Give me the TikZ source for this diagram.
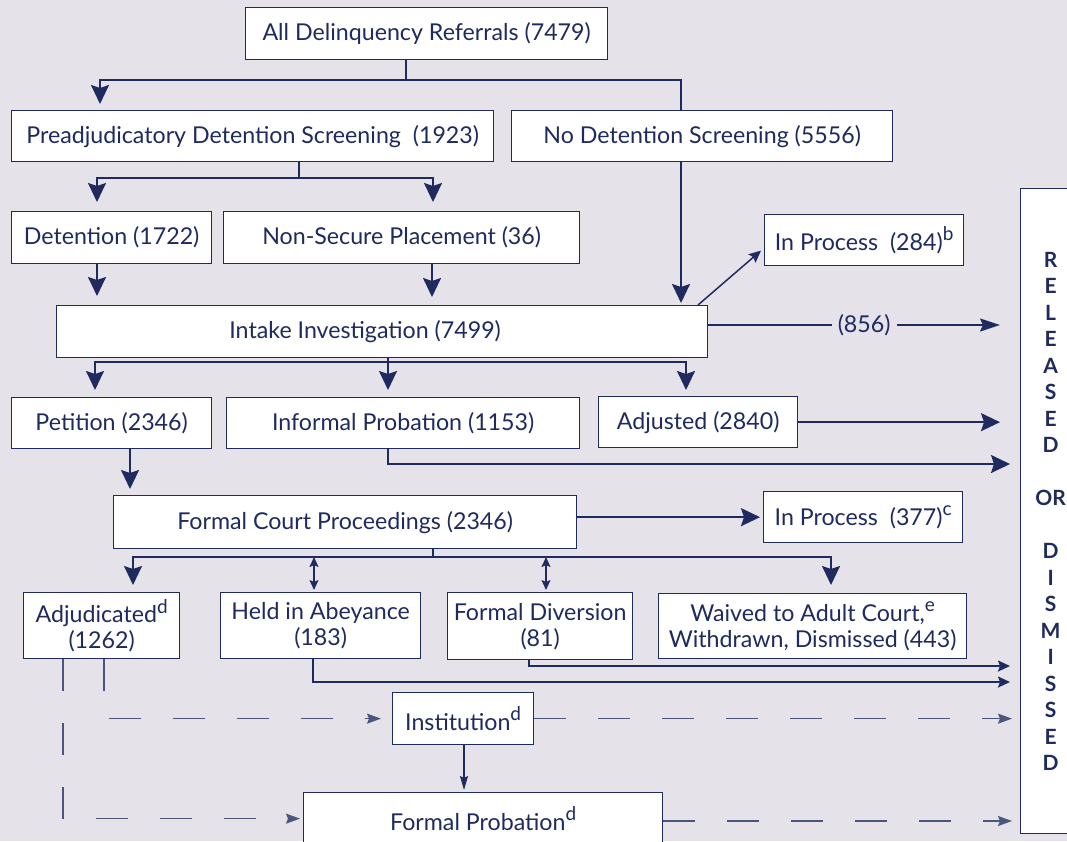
\documentclass[tikz,border=0pt]{standalone}
\usepackage{fontspec}
\setmainfont{Lato}
\usetikzlibrary{arrows.meta}
\definecolor{navy}{HTML}{1F2A5E}
\definecolor{bgcol}{HTML}{E5E2EA}
\newcommand{\notemark}[1]{\raisebox{0.42em}{\fontsize{19}{19}\selectfont #1}}
\tikzset{
  box/.style={draw=navy, fill=white, line width=1.3pt, anchor=north west, inner sep=0pt,
    align=center, text=navy, font=\fontsize{23.2}{26}\selectfont},
  link/.style={draw=navy, line width=2pt},
  big/.style={-{Stealth[length=19pt, width=18pt, inset=3pt]}},
  slim/.style={-{Stealth[length=20pt, width=13pt, inset=3pt]}},
  small/.style={-{Stealth[length=12pt, width=11pt, inset=2pt]}},
  both/.style={{Stealth[length=10pt, width=9pt, inset=2pt]}-{Stealth[length=10pt, width=9pt, inset=2pt]}},
  dashline/.style={draw=navy!80, line width=1.4pt, dash pattern=on 32pt off 32pt,
    -{Stealth[length=14pt, width=10pt, inset=2pt]}},
}

\begin{document}
\begin{tikzpicture}[x=1pt, y=-1pt]
  \useasboundingbox (0,0) rectangle (1067,841);
  \fill[bgcol] (0,0) rectangle (1067,841);

  % boxes
  \node[box, minimum width=362pt, minimum height=52pt] (referrals) at (245,7) {All Delinquency Referrals (7479)};
  \node[box, minimum width=482pt, minimum height=51pt] (screening) at (11,110) {Preadjudicatory Detention Screening\ \ (1923)};
  \node[box, minimum width=381pt, minimum height=51pt] (nodetention) at (511,110) {No Detention Screening (5556)};
  \node[box, minimum width=200pt, minimum height=52pt] (detention) at (11,211) {Detention (1722)};
  \node[box, minimum width=356pt, minimum height=52pt] (nonsecure) at (223,211) {Non-Secure Placement (36)};
  \node[box, minimum width=199pt, minimum height=51pt] (inprocess1) at (764,214) {In Process\ \ (284)\notemark{b}};
  \node[box, minimum width=651pt, minimum height=52pt] (intake) at (56,305) {Intake Investigation (7499)\hspace*{34pt}};
  \node[box, minimum width=200pt, minimum height=51pt] (petition) at (11,397) {Petition (2346)};
  \node[box, minimum width=353pt, minimum height=51pt] (informal) at (226,397) {Informal Probation (1153)};
  \node[box, minimum width=199pt, minimum height=51pt] (adjusted) at (598,396) {Adjusted (2840)};
  \node[box, minimum width=463pt, minimum height=53pt] (court) at (113,495) {Formal Court Proceedings (2346)};
  \node[box, minimum width=199pt, minimum height=51pt] (inprocess2) at (763,491) {In Process\ \ (377)\notemark{c}};
  \node[box, minimum width=156pt, minimum height=66pt] (adjudicated) at (23,592) {Adjudicated\notemark{d}\\(1262)};
  \node[box, minimum width=200pt, minimum height=66pt] (abeyance) at (220,592) {Held in Abeyance\\(183)};
  \node[box, minimum width=185pt, minimum height=67pt] (diversion) at (447,592) {Formal Diversion\\(81)};
  \node[box, minimum width=308pt, minimum height=65pt] (waived) at (658,593) {Waived to Adult Court,\notemark{e}\\Withdrawn, Dismissed (443)};
  \node[box, minimum width=141pt, minimum height=52pt] (institution) at (392,692) {Institution\notemark{d}};
  \node[box, minimum width=359pt, minimum height=52pt] (probation) at (303,792) {Formal Probation\notemark{d}};
  \node[box, minimum width=60pt, minimum height=645pt, font=\fontsize{21}{26.5}\selectfont\bfseries] (released) at (1020,188)
    {R\\E\\L\\E\\A\\S\\E\\D\\ \\OR\\ \\D\\I\\S\\M\\I\\S\\S\\E\\D};

  % referrals and screening
  \coordinate (split1) at (406,80);
  \draw[link] (referrals.south -| split1) -- (split1);
  \draw[link, big, shorten >=6pt] (split1) -| (screening.north -| 100,0);
  \draw[link] (split1) -| (nodetention.north -| 681,0);
  \coordinate (split2) at (299,178);
  \draw[link] (screening.south -| split2) -- (split2);
  \draw[link, big, shorten >=9pt] (split2) -| (detention.north -| 97,0);
  \draw[link, big, shorten >=9pt] (split2) -| (nonsecure.north -| 433,0);
  \draw[link, big, shorten >=9pt] (detention.south -| 97,0) -- (intake.north -| 97,0);
  \draw[link, big, shorten >=8pt] (nonsecure.south -| 432,0) -- (intake.north -| 432,0);
  \draw[link, big, shorten >=2pt] (nodetention.south -| 681,0) -- (intake.north -| 681,0);

  % intake
  \draw[navy, line width=1.5pt, small, shorten >=4pt] (intake.north -| 698,0) -- (inprocess1.west |- 0,248);
  \draw[link, line width=1.5pt, slim, shorten >=20pt] (intake.east |- 0,325)
    -- node[fill=bgcol, text=navy, inner sep=6pt, font=\fontsize{23.2}{26}\selectfont] (skipped) {(856)} (released.west |- 0,325);
  \coordinate (split3) at (388,362);
  \draw[link] (intake.south -| split3) -- (split3);
  \draw[link, big, shorten >=7pt] (split3) -| (petition.north -| 95,0);
  \draw[link, big, shorten >=7pt] (split3) -- (informal.north -| split3);
  \draw[link, big, shorten >=6pt] (split3) -| (adjusted.north -| 686,0);
  \draw[link, big, shorten >=20pt] (adjusted.east) -- (released.west |- adjusted.east);
  \draw[link, big, shorten >=10pt] (informal.south -| 388,0) |- (released.west |- 0,464);
  \draw[link, big, shorten >=6pt] (petition.south -| 130,0) -- (court.north -| 130,0);

  % court
  \draw[link, big, shorten >=3pt] (court.east |- inprocess2.west) -- (inprocess2.west);
  \coordinate (split4) at (433,557);
  \draw[link] (court.south -| split4) -- (split4);
  \draw[link, big, shorten >=7pt] (split4) -| (adjudicated.north -| 133,0);
  \draw[link, big, shorten >=8pt] (split4) -| (waived.north -| 831,0);
  \draw[link, line width=1.5pt, both, shorten >=2pt] (split4 -| 314,0) -- (abeyance.north -| 314,0);
  \draw[link, line width=1.5pt, both, shorten >=2pt] (split4 -| 546,0) -- (diversion.north -| 546,0);
  \draw[link, small, shorten >=10pt] (diversion.south -| 529,0) |- (released.west |- 0,666);
  \draw[link, small, shorten >=10pt] (abeyance.south -| 313,0) |- (released.west |- 0,682);

  % dispositions
  \draw[dashline, shorten >=11pt] (adjudicated.south -| 104,0) |- (institution.west);
  \draw[dashline, shorten >=3pt] (adjudicated.south -| 63,0) |- (probation.west);
  \draw[dashline, shorten >=8pt] (institution.east) -- (released.west |- institution.east);
  \draw[dashline, shorten >=8pt] (probation.east |- 0,821) -- (released.west |- 0,821);
  \draw[navy, line width=1.2pt, -{Stealth[length=14pt, width=8pt, inset=2pt]}, shorten >=2pt]
    (institution.south -| 464,0) -- (probation.north -| 464,0);
\end{tikzpicture}
\end{document}
